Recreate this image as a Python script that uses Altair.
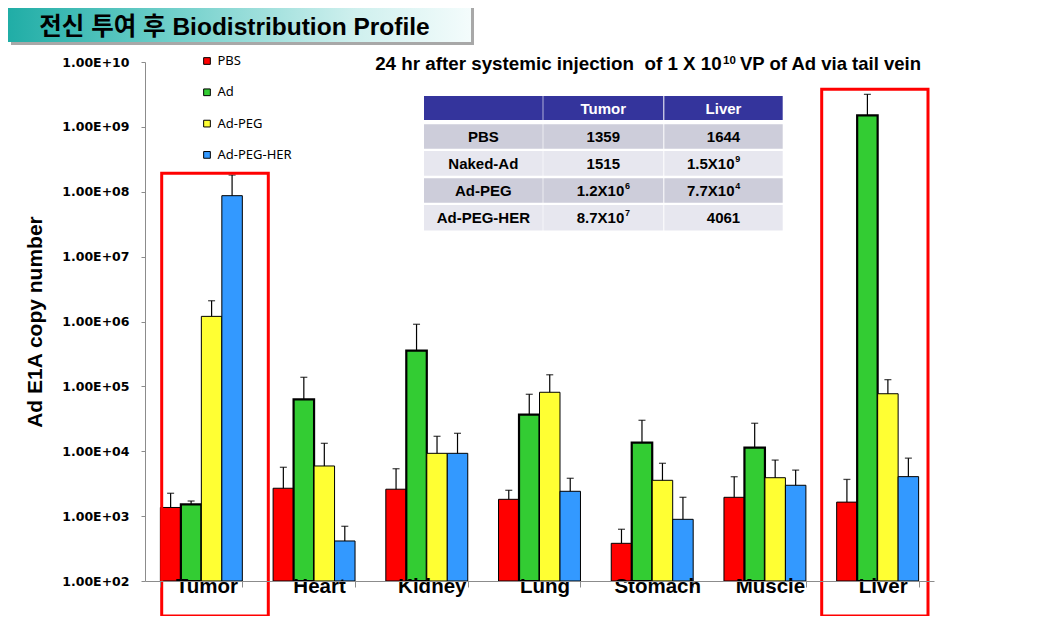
import altair as alt
import pandas as pd

# ---------------- data ----------------
organs = ["Tumor", "Heart", "Kidney", "Lung", "Stomach", "Muscle", "Liver"]
series = ["PBS", "Ad", "Ad-PEG", "Ad-PEG-HER"]
series_colors = ["#FF0000", "#33CC33", "#FFFF33", "#3399FF"]

pbs_mean = [1359, 2690, 2600, 1816, 381, 1950, 1644]
ad_mean = [1515, 63200, 355000, 36600, 13550, 11350, 1.5e9]
adpeg_mean = [1.2e6, 5930, 9290, 81100, 3565, 3910, 7.7e4]
adpegher_mean = [8.7e7, 414, 9290, 2415, 893, 2990, 4061]

pbs_upper = [2250, 5660, 5380, 2500, 627, 4050, 3680]
ad_upper = [1710, 138000, 906000, 75500, 30000, 27000, 3.17e9]
adpeg_upper = [2.09e6, 13250, 17000, 151000, 6520, 7310, 127000]
adpegher_upper = [1.81e8, 697, 18900, 3830, 1950, 5120, 7830]

y_ticks = [1e2, 1e3, 1e4, 1e5, 1e6, 1e7, 1e8, 1e9, 1e10]

table_header = ["", "Tumor", "Liver"]
table_rows = ["PBS", "Naked-Ad", "Ad-PEG", "Ad-PEG-HER"]
table_tumor_base = ["1359", "1515", "1.2X10", "8.7X10"]
table_tumor_sup = ["", "", "6", "7"]
table_liver_base = ["1644", "1.5X10", "7.7X10", "4061"]
table_liver_sup = ["", "9", "4", ""]

title_text = "전신 투여 후 Biodistribution Profile"
subtitle_main = "24 hr after systemic injection\u00a0 of 1 X 10"
subtitle_sup = "10"
subtitle_tail = "VP of Ad via tail vein"
y_title = "Ad E1A copy number"

# ---------------- tables ----------------
means = {"PBS": pbs_mean, "Ad": ad_mean, "Ad-PEG": adpeg_mean, "Ad-PEG-HER": adpegher_mean}
uppers = {"PBS": pbs_upper, "Ad": ad_upper, "Ad-PEG": adpeg_upper, "Ad-PEG-HER": adpegher_upper}
rows = []
for s in series:
    for o, v, u in zip(organs, means[s], uppers[s]):
        rows.append({"organ": o, "series": s, "value": v, "upper": u})
df = pd.DataFrame(rows)

W, H = 789, 519

# layout of the inset table (view pixel coordinates)
col_left = [279, 398.3, 519.3]
col_right = [397.7, 518.3, 637.7]
sup_shift = [0, 0, -10]          # superscripted values sit a bit left in the Liver column
row_top = [34, 62.3, 89.0, 116.3, 143.0]
row_h = [24, 24.5, 24.8, 24.5, 25.5]
row_fill = ["#34349C", "#CDCDDA", "#E7E7EF", "#CDCDDA", "#E7E7EF"]
row_text_color = ["white", "black", "black", "black", "black"]

rect_cells, plain_cells, sup_cells = [], [], []
all_rows = [[(t, "") for t in table_header]] + [
    [(r, ""), (tb, ts), (lb, ls)]
    for r, tb, ts, lb, ls in zip(table_rows, table_tumor_base, table_tumor_sup,
                                 table_liver_base, table_liver_sup)
]
for i, rr in enumerate(all_rows):
    yc = row_top[i] + row_h[i] / 2 + 0.5
    for j, (base, sup) in enumerate(rr):
        xc = (col_left[j] + col_right[j]) / 2
        rect_cells.append({"x0": col_left[j], "x1": col_right[j],
                           "y0": row_top[i], "y1": row_top[i] + row_h[i],
                           "fill": row_fill[i]})
        if sup:
            bx = xc + 21 + sup_shift[j]
            sup_cells.append({"bx": bx, "sx": bx + 0.8, "yc": yc, "ys": yc - 5,
                              "base": base, "sup": sup})
        else:
            plain_cells.append({"xc": xc, "yc": yc, "txt": base, "tcol": row_text_color[i]})
rect_df = pd.DataFrame(rect_cells)
plain_df = pd.DataFrame(plain_cells)
sup_df = pd.DataFrame(sup_cells)

one = alt.Data(values=[{"k": 1}])

# ---------------- encodings ----------------
x_enc = alt.X(
    "organ:N", sort=organs, title=None,
    scale=alt.Scale(paddingInner=0.273, paddingOuter=0.1365),
    axis=alt.Axis(
        title=None, labelAngle=0, labelFont="Liberation Sans", labelFontWeight="bold",
        labelFontSize=20.5, labelColor="black", labelBaseline="alphabetic",
        labelPadding=5.3, labelOffset=5, tickSize=6, tickBand="extent",
        domainColor="#8C8C8C", tickColor="#8C8C8C", zindex=1, grid=False,
    ),
)
xo_enc = alt.XOffset("series:N", sort=series, scale=alt.Scale(paddingInner=0, paddingOuter=0))
y_scale = alt.Scale(type="log", domain=[1e2, 1e10])
y_axis = alt.Axis(
    values=y_ticks,
    labelExpr="'1.00E+' + (datum.value < 1e10 ? '0' : '') + format(log(datum.value)/LN10, '.0f')",
    labelFont="DejaVu Sans", labelFontWeight="bold", labelFontSize=12.5, labelColor="black",
    labelPadding=12, tickSize=4, domainColor="#8C8C8C", tickColor="#8C8C8C", grid=False,
    title=y_title, titleFont="Liberation Sans", titleFontWeight="bold", titleFontSize=21,
    titleColor="black", titlePadding=16,
)

color_enc = alt.Color(
    "series:N", sort=series,
    scale=alt.Scale(domain=series, range=series_colors),
    legend=alt.Legend(
        orient="none", legendX=55.5, legendY=-7.5, title=None, symbolType="square",
        symbolSize=45, symbolStrokeColor="black", symbolStrokeWidth=1,
        labelFont="Noto Sans", labelFontSize=13, labelColor="black",
        rowPadding=17.3, labelOffset=4, padding=0,
    ),
)

bars = alt.Chart(df).mark_bar(stroke="black").encode(
    x=x_enc, xOffset=xo_enc,
    y=alt.Y("value:Q", scale=y_scale, axis=y_axis, title=y_title),
    y2=alt.datum(100), color=color_enc,
    strokeWidth=alt.condition("datum.series == 'Ad'", alt.value(2.2), alt.value(1)),
)

err = alt.Chart(df).mark_rule(color="black", strokeWidth=1.2).encode(
    x=x_enc, xOffset=xo_enc,
    y=alt.Y("value:Q", scale=y_scale, axis=y_axis, title=y_title), y2="upper:Q",
)
caps = alt.Chart(df).mark_tick(color="black", thickness=1.3, size=7).encode(
    x=x_enc, xOffset=xo_enc,
    y=alt.Y("upper:Q", scale=y_scale, axis=y_axis, title=y_title),
)

# highlight boxes
box_tumor = alt.Chart(one).mark_rect(fillOpacity=0, stroke="#FF0000", strokeWidth=3).encode(
    x=alt.value(16.7), x2=alt.value(123.3), y=alt.value(111.3), y2=alt.value(554))
box_liver = alt.Chart(one).mark_rect(fillOpacity=0, stroke="#FF0000", strokeWidth=3).encode(
    x=alt.value(676.7), x2=alt.value(783.0), y=alt.value(27.3), y2=alt.value(554))

# title banner
shadow = alt.Chart(one).mark_rect(color="#A8A8A8").encode(
    x=alt.value(-134), x2=alt.value(329), y=alt.value(-55), y2=alt.value(-17))
banner = alt.Chart(one).mark_rect(
    color=alt.LinearGradient(
        gradient="linear", x1=0, x2=1, y1=0, y2=0,
        stops=[alt.GradientStop(color="#20ADA6", offset=0),
               alt.GradientStop(color="#6FCFCA", offset=0.35),
               alt.GradientStop(color="#CFF0EE", offset=0.75),
               alt.GradientStop(color="#F4FCFC", offset=1)],
    )
).encode(x=alt.value(-137), x2=alt.value(326), y=alt.value(-58), y2=alt.value(-20))
banner_text = alt.Chart(one).mark_text(
    text=title_text, align="left", baseline="alphabetic", fontSize=24.5, fontWeight="bold",
    font="Liberation Sans, Noto Sans CJK KR", color="black",
).encode(x=alt.value(-105.7), y=alt.value(-27))

# subtitle
sub1 = alt.Chart(one).mark_text(
    text=subtitle_main, align="right", baseline="alphabetic", fontSize=18.8,
    fontWeight="bold", font="Liberation Sans", color="black",
).encode(x=alt.value(576.7), y=alt.value(8))
sub2 = alt.Chart(one).mark_text(
    text=subtitle_sup, align="left", baseline="alphabetic", fontSize=11.5,
    fontWeight="bold", font="Liberation Sans", color="black",
).encode(x=alt.value(578), y=alt.value(1.5))
sub3 = alt.Chart(one).mark_text(
    text=subtitle_tail, align="left", baseline="alphabetic", fontSize=18.5,
    fontWeight="bold", font="Liberation Sans", color="black",
).encode(x=alt.value(595), y=alt.value(8))

# inset table
t_rect = alt.Chart(rect_df).mark_rect().encode(
    x=alt.X("x0:Q", scale=None), x2="x1:Q",
    y=alt.Y("y0:Q", scale=None), y2="y1:Q",
    fill=alt.Fill("fill:N", scale=None, legend=None),
)
t_text = alt.Chart(plain_df).mark_text(
    fontSize=15, fontWeight="bold", font="Liberation Sans", baseline="middle", align="center",
).encode(
    x=alt.X("xc:Q", scale=None), y=alt.Y("yc:Q", scale=None),
    text="txt:N", color=alt.Color("tcol:N", scale=None, legend=None),
)
t_base = alt.Chart(sup_df).mark_text(
    fontSize=15, fontWeight="bold", font="Liberation Sans", baseline="middle", align="right",
    color="black",
).encode(x=alt.X("bx:Q", scale=None), y=alt.Y("yc:Q", scale=None), text="base:N")
t_sup = alt.Chart(sup_df).mark_text(
    fontSize=9, fontWeight="bold", font="Liberation Sans", baseline="middle", align="left",
    color="black",
).encode(x=alt.X("sx:Q", scale=None), y=alt.Y("ys:Q", scale=None), text="sup:N")

chart = alt.layer(
    shadow, banner, banner_text, sub1, sub2, sub3,
    bars, err, caps, box_tumor, box_liver, t_rect, t_text, t_base, t_sup,
).properties(
    width=W, height=H,
    padding={"left": 137, "top": 54, "right": 110, "bottom": 35},
    autosize=alt.AutoSizeParams(type="none"),
    background="white",
).configure_view(stroke=None)

chart.save("out.html", embed_options={"renderer": "svg", "actions": False})
